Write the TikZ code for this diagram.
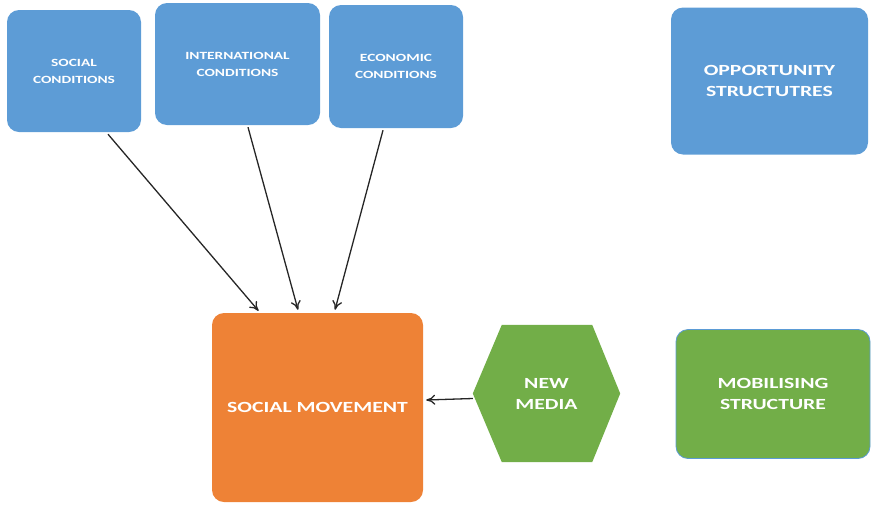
\documentclass[tikz,border=0pt]{standalone}
\usepackage{fontspec}
\setmainfont{Carlito}
\newfontfamily\labelfont[FakeStretch=1.4]{Carlito}
\usetikzlibrary{arrows.meta,backgrounds}
\definecolor{boxblue}{HTML}{5D9CD6}
\definecolor{boxorange}{HTML}{EE8236}
\definecolor{boxgreen}{HTML}{72AE48}
\definecolor{edgeblue}{HTML}{5B9BD5}
\begin{document}
\begin{tikzpicture}[x=1pt,y=-1pt,
  card/.style={rounded corners=12pt, inner sep=0pt, align=center, text=white},
  bluecard/.style={card, fill=boxblue},
  small/.style={font=\labelfont\bfseries\fontsize{11}{17}\selectfont},
  large/.style={font=\labelfont\bfseries\fontsize{15.5}{21}\selectfont},
  link/.style={-{To[length=9pt,width=10pt]}, line width=1.3pt, draw=black!85}]
\useasboundingbox (0,0) rectangle (872,504);
% condition boxes
\node[bluecard, small, minimum width=134pt, minimum height=122pt] (soc) at (74,71) {SOCIAL\\CONDITIONS};
\node[bluecard, small, minimum width=165pt, minimum height=122pt] (intl) at (237.5,64) {INTERNATIONAL\\CONDITIONS};
\node[bluecard, small, minimum width=134pt, minimum height=123pt] (econ) at (396,66.5) {ECONOMIC\\CONDITIONS};
\node[bluecard, large, minimum width=197pt, minimum height=147pt] (opp) at (769.5,81) {OPPORTUNITY\\STRUCTUTRES};
% central movement
\node[card, large, fill=boxorange, minimum width=211pt, minimum height=189pt] (sm) at (317.5,407.5) {SOCIAL MOVEMENT};
% new media hexagon
\node[card, large, minimum width=147pt, minimum height=137pt] (nm) at (546.5,393.5) {NEW\\MEDIA};
\begin{pgfonlayer}{background}
\fill[boxgreen] (nm.west) -- ([xshift=29pt]nm.north west) -- ([xshift=-28pt]nm.north east)
  -- (nm.east) -- ([xshift=-28pt]nm.south east) -- ([xshift=29pt]nm.south west) -- cycle;
\end{pgfonlayer}
\node[card, large, fill=boxgreen, draw=edgeblue, line width=0.8pt, minimum width=194pt, minimum height=129pt] (mob) at (773,394) {MOBILISING\\STRUCTURE};
% influences
\draw[link] ([xshift=34pt,yshift=-2pt]soc.south) -- ([xshift=-59pt,yshift=2pt]sm.north);
\draw[link] ([xshift=10.5pt,yshift=-2pt]intl.south) -- ([xshift=-19.5pt,yshift=3pt]sm.north);
\draw[link] ([xshift=-13pt,yshift=-2pt]econ.south) -- ([xshift=17.5pt,yshift=3pt]sm.north);
\draw[link] ([yshift=-5pt]nm.west) -- ([xshift=3pt,yshift=7.5pt]sm.east);
\end{tikzpicture}
\end{document}
